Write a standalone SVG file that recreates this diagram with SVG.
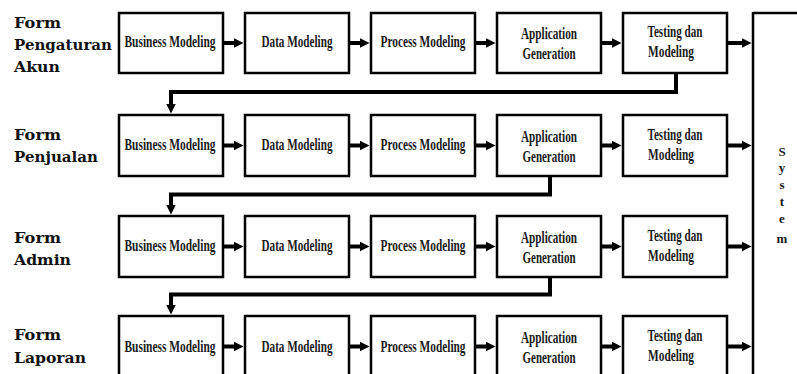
<svg xmlns="http://www.w3.org/2000/svg" width="797" height="374" viewBox="0 0 797 374">
  <style>
    .box { fill: #ffffff; stroke: #000000; stroke-width: 2.5; }
    .step { font-family: "Liberation Serif", "Times New Roman", serif; font-weight: bold; font-size: 16.5px; fill: #1a1a1a; text-anchor: middle; }
    .form { font-family: "DejaVu Serif", "Liberation Serif", serif; font-weight: bold; font-size: 15.5px; fill: #111111; }
    .sys { font-family: "Liberation Serif", "Times New Roman", serif; font-weight: bold; font-size: 13px; fill: #1a1a1a; text-anchor: middle; }
    .flow { fill: none; stroke: #000000; stroke-width: 4; marker-end: url(#head); }
    .elbow { fill: none; stroke: #000000; stroke-width: 4; stroke-linejoin: miter; marker-end: url(#head); }
    .frame { fill: none; stroke: #000000; stroke-width: 2.5; }
  </style>
  <defs>
    <marker id="head" markerUnits="userSpaceOnUse" markerWidth="11" markerHeight="11" refX="2" refY="5" orient="auto">
      <path d="M0,0 L10,5 L0,10 z" fill="#000000"/>
    </marker>
  </defs>
  <rect width="797" height="374" fill="#ffffff"/>

  <!-- form labels -->
  <g id="label-pengaturan-akun">
    <text class="form" x="14" y="28" textLength="47" lengthAdjust="spacingAndGlyphs">Form</text>
    <text class="form" x="14" y="50" textLength="98" lengthAdjust="spacingAndGlyphs">Pengaturan</text>
    <text class="form" x="14" y="72" textLength="46" lengthAdjust="spacingAndGlyphs">Akun</text>
  </g>
  <g id="label-penjualan">
    <text class="form" x="14" y="140" textLength="47" lengthAdjust="spacingAndGlyphs">Form</text>
    <text class="form" x="14" y="162" textLength="84" lengthAdjust="spacingAndGlyphs">Penjualan</text>
  </g>
  <g id="label-admin">
    <text class="form" x="14" y="243" textLength="47" lengthAdjust="spacingAndGlyphs">Form</text>
    <text class="form" x="14" y="265" textLength="57" lengthAdjust="spacingAndGlyphs">Admin</text>
  </g>
  <g id="label-laporan">
    <text class="form" x="14" y="340" textLength="47" lengthAdjust="spacingAndGlyphs">Form</text>
    <text class="form" x="14" y="363" textLength="72" lengthAdjust="spacingAndGlyphs">Laporan</text>
  </g>

  <!-- row 1: Form Pengaturan Akun -->
  <g id="r1-business"><rect class="box" x="119" y="13" width="104" height="60"/><text class="step" x="170" y="47" textLength="91" lengthAdjust="spacingAndGlyphs">Business Modeling</text></g>
  <g id="r1-data"><rect class="box" x="245" y="13" width="104" height="60"/><text class="step" x="297" y="47" textLength="71" lengthAdjust="spacingAndGlyphs">Data Modeling</text></g>
  <g id="r1-process"><rect class="box" x="371" y="13" width="104" height="60"/><text class="step" x="423" y="47" textLength="85" lengthAdjust="spacingAndGlyphs">Process Modeling</text></g>
  <g id="r1-appgen"><rect class="box" x="497" y="13" width="104" height="60"/><text class="step" x="549" y="39" textLength="56" lengthAdjust="spacingAndGlyphs">Application</text><text class="step" x="549" y="59" textLength="53" lengthAdjust="spacingAndGlyphs">Generation</text></g>
  <g id="r1-testing"><rect class="box" x="623" y="13" width="104" height="60"/><text class="step" x="675" y="37" textLength="55" lengthAdjust="spacingAndGlyphs">Testing dan</text><text class="step" x="671" y="57" textLength="46" lengthAdjust="spacingAndGlyphs">Modeling</text></g>

  <!-- row 2: Form Penjualan -->
  <g id="r2-business"><rect class="box" x="119" y="115" width="104" height="61"/><text class="step" x="170" y="150" textLength="91" lengthAdjust="spacingAndGlyphs">Business Modeling</text></g>
  <g id="r2-data"><rect class="box" x="245" y="115" width="104" height="61"/><text class="step" x="297" y="150" textLength="71" lengthAdjust="spacingAndGlyphs">Data Modeling</text></g>
  <g id="r2-process"><rect class="box" x="371" y="115" width="104" height="61"/><text class="step" x="423" y="150" textLength="85" lengthAdjust="spacingAndGlyphs">Process Modeling</text></g>
  <g id="r2-appgen"><rect class="box" x="497" y="115" width="104" height="61"/><text class="step" x="549" y="142" textLength="56" lengthAdjust="spacingAndGlyphs">Application</text><text class="step" x="549" y="162" textLength="53" lengthAdjust="spacingAndGlyphs">Generation</text></g>
  <g id="r2-testing"><rect class="box" x="623" y="115" width="104" height="61"/><text class="step" x="675" y="140" textLength="55" lengthAdjust="spacingAndGlyphs">Testing dan</text><text class="step" x="671" y="160" textLength="46" lengthAdjust="spacingAndGlyphs">Modeling</text></g>

  <!-- row 3: Form Admin -->
  <g id="r3-business"><rect class="box" x="119" y="216" width="104" height="61"/><text class="step" x="170" y="251" textLength="91" lengthAdjust="spacingAndGlyphs">Business Modeling</text></g>
  <g id="r3-data"><rect class="box" x="245" y="216" width="104" height="61"/><text class="step" x="297" y="251" textLength="71" lengthAdjust="spacingAndGlyphs">Data Modeling</text></g>
  <g id="r3-process"><rect class="box" x="371" y="216" width="104" height="61"/><text class="step" x="423" y="251" textLength="85" lengthAdjust="spacingAndGlyphs">Process Modeling</text></g>
  <g id="r3-appgen"><rect class="box" x="497" y="216" width="104" height="61"/><text class="step" x="549" y="243" textLength="56" lengthAdjust="spacingAndGlyphs">Application</text><text class="step" x="549" y="263" textLength="53" lengthAdjust="spacingAndGlyphs">Generation</text></g>
  <g id="r3-testing"><rect class="box" x="623" y="216" width="104" height="61"/><text class="step" x="675" y="241" textLength="55" lengthAdjust="spacingAndGlyphs">Testing dan</text><text class="step" x="671" y="261" textLength="46" lengthAdjust="spacingAndGlyphs">Modeling</text></g>

  <!-- row 4: Form Laporan (runs past the bottom edge) -->
  <g id="r4-business"><rect class="box" x="119" y="316" width="104" height="61"/><text class="step" x="170" y="352" textLength="91" lengthAdjust="spacingAndGlyphs">Business Modeling</text></g>
  <g id="r4-data"><rect class="box" x="245" y="316" width="104" height="61"/><text class="step" x="297" y="352" textLength="71" lengthAdjust="spacingAndGlyphs">Data Modeling</text></g>
  <g id="r4-process"><rect class="box" x="371" y="316" width="104" height="61"/><text class="step" x="423" y="352" textLength="85" lengthAdjust="spacingAndGlyphs">Process Modeling</text></g>
  <g id="r4-appgen"><rect class="box" x="497" y="316" width="104" height="61"/><text class="step" x="549" y="343" textLength="56" lengthAdjust="spacingAndGlyphs">Application</text><text class="step" x="549" y="363" textLength="53" lengthAdjust="spacingAndGlyphs">Generation</text></g>
  <g id="r4-testing"><rect class="box" x="623" y="316" width="104" height="61"/><text class="step" x="675" y="341" textLength="55" lengthAdjust="spacingAndGlyphs">Testing dan</text><text class="step" x="671" y="361" textLength="46" lengthAdjust="spacingAndGlyphs">Modeling</text></g>

  <!-- system block -->
  <g id="system">
    <path class="frame" d="M753,13 H800 M753,12 V376"/>
    <text class="sys" x="782" y="156">S</text>
    <text class="sys" x="782" y="172">y</text>
    <text class="sys" x="782" y="189">s</text>
    <text class="sys" x="782" y="206">t</text>
    <text class="sys" x="782" y="223">e</text>
    <text class="sys" x="782" y="243">m</text>
  </g>

  <!-- connectors -->
  <g id="connectors">
    <path class="flow" d="M224,43 H235.5"/>
    <path class="flow" d="M350,43 H361.5"/>
    <path class="flow" d="M476,43 H487.5"/>
    <path class="flow" d="M602,43 H613.5"/>
    <path class="flow" d="M728,43 H743.5"/>

    <path class="flow" d="M224,145.5 H235.5"/>
    <path class="flow" d="M350,145.5 H361.5"/>
    <path class="flow" d="M476,145.5 H487.5"/>
    <path class="flow" d="M602,145.5 H613.5"/>
    <path class="flow" d="M728,145.5 H743.5"/>

    <path class="flow" d="M224,246.5 H235.5"/>
    <path class="flow" d="M350,246.5 H361.5"/>
    <path class="flow" d="M476,246.5 H487.5"/>
    <path class="flow" d="M602,246.5 H613.5"/>
    <path class="flow" d="M728,246.5 H743.5"/>

    <path class="flow" d="M224,346.5 H235.5"/>
    <path class="flow" d="M350,346.5 H361.5"/>
    <path class="flow" d="M476,346.5 H487.5"/>
    <path class="flow" d="M602,346.5 H613.5"/>
    <path class="flow" d="M728,346.5 H743.5"/>

    <path class="elbow" d="M676,74 V92 H171 V105.5"/>
    <path class="elbow" d="M550,177 V194.5 H171 V206.5"/>
    <path class="elbow" d="M550,278 V294.5 H171 V306.5"/>
  </g>
</svg>
